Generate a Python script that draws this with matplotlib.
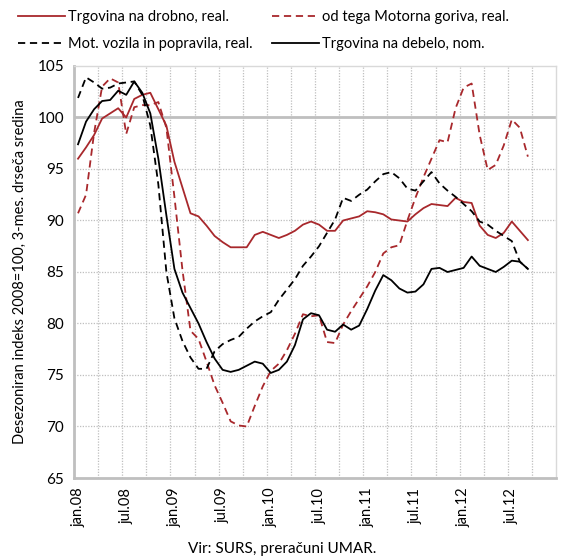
import matplotlib
matplotlib.use("Agg")
import matplotlib.pyplot as plt
import numpy as np

plt.rcParams['font.family'] = ['Lato', 'DejaVu Sans']

months = ["jan", "feb", "mar", "apr", "maj", "jun", "jul", "avg", "sep", "okt", "nov", "dec"]
years = ["08", "09", "10", "11", "12"]
categories = [f"{m}.{y}" for y in years for m in months]  # jan.08 .. dec.12

drobno = [96.0, 97.1, 98.3, 99.9, 100.4, 100.9, 100.0, 101.8, 102.2, 102.4,
          100.8, 99.2, 95.7, 93.2, 90.7, 90.4, 89.5, 88.5, 87.9, 87.4,
          87.4, 87.4, 88.6, 88.9, 88.6, 88.3, 88.6, 89.0, 89.6, 89.9,
          89.6, 89.0, 89.0, 90.0, 90.2, 90.4, 90.9, 90.8, 90.6, 90.1,
          90.0, 89.9, 90.6, 91.2, 91.6, 91.5, 91.4, 92.2, 91.8, 91.7,
          89.5, 88.6, 88.3, 88.8, 89.9, 89.0, 88.1]

goriva = [90.7, 92.5, 98.5, 103.0, 103.8, 103.4, 98.4, 101.0, 101.2, 101.2,
          101.5, 99.0, 92.3, 85.2, 79.3, 78.5, 76.3, 74.0, 72.3, 70.5,
          70.1, 70.0, 72.0, 73.9, 75.4, 76.1, 77.4, 79.0, 80.9, 80.7,
          80.8, 78.2, 78.1, 79.9, 81.2, 82.4, 83.6, 85.0, 86.8, 87.4,
          87.6, 90.0, 92.2, 94.2, 96.0, 97.8, 97.6, 100.9, 102.9, 103.3,
          98.3, 94.9, 95.4, 97.3, 99.8, 99.0, 96.2]

vozila = [101.9, 103.9, 103.4, 102.8, 102.9, 103.3, 103.4, 103.5, 102.2, 99.2,
          93.5, 85.0, 80.5, 78.3, 76.7, 75.6, 75.6, 77.3, 78.0, 78.4,
          78.7, 79.5, 80.2, 80.7, 81.1, 82.3, 83.3, 84.3, 85.6, 86.5,
          87.5, 88.8, 90.1, 92.2, 91.9, 92.5, 93.0, 93.8, 94.5, 94.7,
          94.1, 93.1, 92.9, 93.8, 94.7, 93.6, 92.9, 92.3, 91.6, 90.9,
          89.9, 89.6, 89.0, 88.5, 88.0, 86.0, 85.3]

debelo = [97.4, 99.6, 100.8, 101.6, 101.7, 102.6, 102.2, 103.5, 102.4, 100.4,
          96.0, 90.5, 85.3, 83.0, 81.5, 80.0, 78.2, 76.6, 75.5, 75.3,
          75.5, 75.9, 76.3, 76.1, 75.2, 75.5, 76.3, 77.9, 80.4, 81.0,
          80.8, 79.4, 79.2, 79.9, 79.4, 79.8, 81.4, 83.2, 84.7, 84.2,
          83.4, 83.0, 83.1, 83.8, 85.3, 85.4, 85.0, 85.2, 85.4, 86.5,
          85.6, 85.3, 85.0, 85.5, 86.1, 86.0, 85.3]

series_labels = ["Trgovina na drobno, real.", "od tega Motorna goriva, real.",
                 "Mot. vozila in popravila, real.", "Trgovina na debelo, nom."]
y_ticks = [65, 70, 75, 80, 85, 90, 95, 100, 105]
y_label = "Desezoniran indeks 2008=100, 3-mes. drseča sredina"
source = "Vir: SURS, preračuni UMAR."

RED = "#A8282C"
GRID = "#BFBFBF"

fig = plt.figure(figsize=(5.64, 5.60), dpi=100)
ax = fig.add_axes([74/564, 1-478/560, (556-74)/564, (478-66)/560])

x = np.arange(len(drobno))
l1, = ax.plot(x, drobno, color=RED, lw=1.3, label=series_labels[0])
l2, = ax.plot(x, goriva, color=RED, lw=1.3, dashes=(4, 2.6), label=series_labels[1])
l3, = ax.plot(x, vozila, color="black", lw=1.3, dashes=(4, 2.6), label=series_labels[2])
l4, = ax.plot(x, debelo, color="black", lw=1.3, label=series_labels[3])

ax.set_xlim(-0.5, len(categories) - 0.5)
ax.set_ylim(65, 105)
ax.set_yticks(y_ticks)
ax.set_yticklabels([str(v) for v in y_ticks], fontsize=11)

tick_pos = list(range(0, 57, 6))
ax.set_xticks(tick_pos)
ax.set_xticklabels([categories[i] for i in tick_pos], rotation=90, fontsize=10.5)
ax.tick_params(length=0, pad=7)

# gridlines
for v in y_ticks[1:-1]:
    if v == 100:
        ax.axhline(v, color=GRID, lw=2.0, zorder=0.5)
    else:
        ax.axhline(v, color=GRID, lw=0.9, ls=(0, (1, 1.2)), zorder=0.5)
for b in np.arange(2.5, 57, 3):
    ax.axvline(b, color=GRID, lw=0.9, ls=(0, (1, 1.2)), zorder=0.5)

for s in ["left", "bottom"]:
    ax.spines[s].set_color(GRID)
    ax.spines[s].set_linewidth(2.0)
for s in ["top", "right"]:
    ax.spines[s].set_color("#D9D9D9")
    ax.spines[s].set_linewidth(1.0)

ax.set_ylabel(y_label, fontsize=10.5, labelpad=8)

# legend: row 1 = drobno, goriva; row 2 = vozila, debelo (column-major fill)
fig.legend([l1, l3, l2, l4],
           [series_labels[0], series_labels[2], series_labels[1], series_labels[3]],
           ncol=2, loc="upper left",
           bbox_to_anchor=(0.032, 0.982), frameon=False, fontsize=10.5,
           handlelength=3.2, handletextpad=0.25, columnspacing=1.3,
           labelspacing=0.86, borderaxespad=0, borderpad=0)

fig.text(0.5, 0.008, source, ha="center", va="bottom", fontsize=11)

fig.savefig("out.png", dpi=100)
